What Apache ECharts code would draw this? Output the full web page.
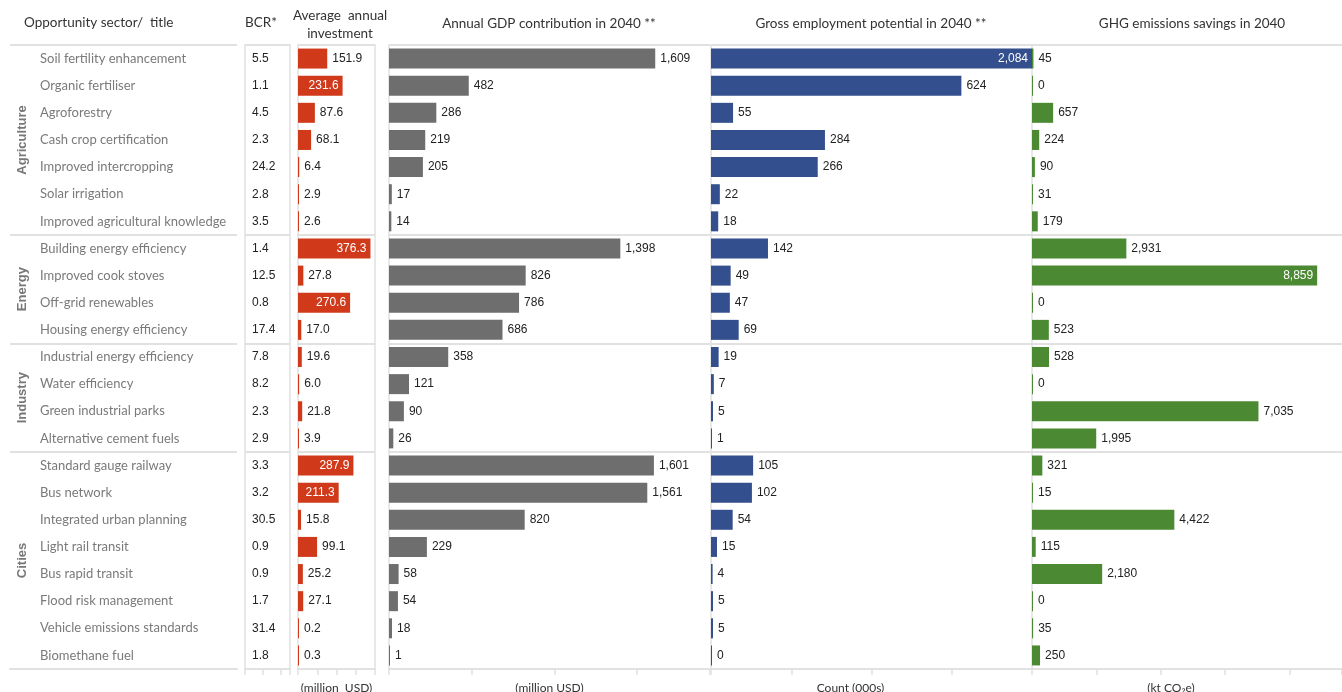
<!DOCTYPE html>
<html>
<head>
<meta charset="utf-8">
<script src="https://cdn.jsdelivr.net/npm/echarts@6/dist/echarts.min.js"></script>
<style>
html, body { margin: 0; padding: 0; background: #fff; }
#main { width: 1342px; height: 692px; }
</style>
</head>
<body>
<div id="main"></div>
<script>
// opportunities, top to bottom
var projects = [
    'Soil fertility enhancement', 'Organic fertiliser', 'Agroforestry', 'Cash crop certification',
    'Improved intercropping', 'Solar irrigation', 'Improved agricultural knowledge',
    'Building energy efficiency', 'Improved cook stoves', 'Off-grid renewables', 'Housing energy efficiency',
    'Industrial energy efficiency', 'Water efficiency', 'Green industrial parks', 'Alternative cement fuels',
    'Standard gauge railway', 'Bus network', 'Integrated urban planning', 'Light rail transit',
    'Bus rapid transit', 'Flood risk management', 'Vehicle emissions standards', 'Biomethane fuel'
];
var sectors = ['Agriculture', 'Energy', 'Industry', 'Cities'];
var sectorSizes = [7, 4, 4, 8];

var bcr = [5.5, 1.1, 4.5, 2.3, 24.2, 2.8, 3.5, 1.4, 12.5, 0.8, 17.4, 7.8, 8.2, 2.3, 2.9, 3.3, 3.2, 30.5, 0.9, 0.9, 1.7, 31.4, 1.8];
var invest = [151.9, 231.6, 87.6, 68.1, 6.4, 2.9, 2.6, 376.3, 27.8, 270.6, 17.0, 19.6, 6.0, 21.8, 3.9, 287.9, 211.3, 15.8, 99.1, 25.2, 27.1, 0.2, 0.3];
var gdp = [1609, 482, 286, 219, 205, 17, 14, 1398, 826, 786, 686, 358, 121, 90, 26, 1601, 1561, 820, 229, 58, 54, 18, 1];
var jobs = [2084, 624, 55, 284, 266, 22, 18, 142, 49, 47, 69, 19, 7, 5, 1, 105, 102, 54, 15, 4, 5, 5, 0];
var ghg = [45, 0, 657, 224, 90, 31, 179, 2931, 8859, 0, 523, 528, 0, 7035, 1995, 321, 15, 4422, 115, 2180, 0, 35, 250];

var chart = echarts.init(document.getElementById('main'));

var LINE = '#e1e1e1';
var TXT = 'Lato, "Open Sans", sans-serif';
var NUM = '"Liberation Sans", Arial, sans-serif';

// first row of each sector -> separator lines
var starts = [];
var n = 0;
sectorSizes.forEach(function (s) { starts.push(n); n += s; });

function yAx(i, extra) {
    return Object.assign({
        gridIndex: i,
        type: 'category',
        data: projects,
        inverse: true,
        axisLine: { show: false },
        axisTick: { show: false },
        axisLabel: { show: false },
        splitLine: {
            show: true,
            interval: function (idx) { return starts.indexOf(idx) >= 0; },
            lineStyle: { color: LINE, width: 2 }
        }
    }, extra || {});
}

function xAx(i, max, interval, extra) {
    return Object.assign({
        gridIndex: i,
        type: 'value',
        min: 0,
        max: max,
        interval: interval,
        axisLine: { show: true, lineStyle: { color: LINE, width: 2 } },
        axisTick: { show: true, length: 6, lineStyle: { color: LINE, width: 1.5 } },
        axisLabel: { show: false },
        splitLine: { show: false },
        nameLocation: 'middle',
        nameGap: 13,
        nameTextStyle: { color: '#333', fontSize: 12, fontFamily: TXT }
    }, extra || {});
}

function fmt(v) { return v.toLocaleString('en-US'); }

// label goes inside (white) when the bar is too long
function barData(values, limit) {
    return values.map(function (v) {
        if (v > limit) {
            return { value: v, label: { position: 'insideRight', color: '#fff', distance: 4 } };
        }
        return v;
    });
}

function barSeries(i, values, limit, color, formatter) {
    return {
        type: 'bar',
        xAxisIndex: i,
        yAxisIndex: i,
        data: barData(values, limit),
        barWidth: 20,
        barMinHeight: 1,
        itemStyle: { color: color },
        label: {
            show: true,
            position: 'right',
            distance: 5,
            color: '#222',
            fontSize: 12,
            fontFamily: NUM,
            formatter: function (p) { return formatter(p.value); }
        }
    };
}

function grid(left, width, boxed) {
    var g = { left: left, width: width, top: 45, bottom: 23, outerBoundsMode: 'none' };
    if (boxed) {
        g.show = true;
        g.borderColor = LINE;
        g.borderWidth = 1.5;
    }
    return g;
}

var sideLine = { show: true, lineStyle: { color: LINE, width: 1.5 } };

chart.setOption({
    animation: false,
    grid: [
        grid(10, 227),
        grid(245, 45, true),
        grid(298, 77, true),
        grid(389, 321),
        grid(711, 321),
        grid(1032, 310)
    ],
    xAxis: [
        xAx(0, 1, 1, { axisTick: { show: false } }),
        xAx(1, 50, 20),
        xAx(2, 400, 100, { name: '(million  USD)' }),
        xAx(3, 1940, 500, { name: '(million USD)' }),
        xAx(4, 800, 200, { name: 'Count (000s)', nameTextStyle: { color: '#333', fontSize: 12, fontFamily: TXT, padding: [0, 42, 0, 0] } }),
        xAx(5, 9630, 2000, { name: '(kt CO\u2082e)', nameTextStyle: { color: '#333', fontSize: 12, fontFamily: TXT, padding: [0, 32, 0, 0] } })
    ],
    yAxis: [
        yAx(0, { axisLabel: { show: true, inside: true, margin: 30, color: '#7a7a7a', fontSize: 13, fontFamily: TXT } }),
        // BCR column is text only
        yAx(1, { axisLabel: {
            show: true, inside: true, margin: 7, color: '#222', fontSize: 12, fontFamily: NUM,
            formatter: function (v, idx) { return bcr[idx].toFixed(1); }
        } }),
        yAx(2),
        yAx(3, { axisLine: sideLine }),
        yAx(4, { axisLine: sideLine }),
        yAx(5, { axisLine: sideLine })
    ],
    series: [
        barSeries(2, invest, 200, '#d03a1b', function (v) { return v.toFixed(1); }),
        barSeries(3, gdp, 1940, '#6e6e6e', fmt),
        barSeries(4, jobs, 800, '#334f8e', fmt),
        barSeries(5, ghg, 7500, '#4b8a33', fmt)
    ]
});

// headers and sector names
var head = { fill: '#333', fontSize: 13.5, fontFamily: TXT };
var gfx = [
    { type: 'text', x: 24, y: 23, style: Object.assign({ text: 'Opportunity sector/  title', verticalAlign: 'middle' }, head) },
    { type: 'text', x: 245, y: 23, style: Object.assign({ text: 'BCR*', verticalAlign: 'middle' }, head) },
    { type: 'text', x: 340, y: 25, style: Object.assign({ text: 'Average  annual\ninvestment', align: 'center', verticalAlign: 'middle', lineHeight: 18 }, head) },
    { type: 'text', x: 549, y: 24, style: Object.assign({ text: 'Annual GDP contribution in 2040 **', align: 'center', verticalAlign: 'middle' }, head) },
    { type: 'text', x: 871, y: 24, style: Object.assign({ text: 'Gross employment potential in 2040 **', align: 'center', verticalAlign: 'middle' }, head) },
    { type: 'text', x: 1192, y: 24, style: Object.assign({ text: 'GHG emissions savings in 2040', align: 'center', verticalAlign: 'middle' }, head) }
];
sectors.forEach(function (s, k) {
    var a = chart.convertToPixel({ yAxisIndex: 0 }, projects[starts[k]]);
    var b = chart.convertToPixel({ yAxisIndex: 0 }, projects[starts[k] + sectorSizes[k] - 1]);
    gfx.push({
        type: 'text',
        x: 22,
        y: (a + b) / 2,
        rotation: Math.PI / 2,
        style: { text: s, fill: '#777', fontSize: 13, fontWeight: 'bold', fontFamily: NUM, align: 'center', verticalAlign: 'middle' }
    });
});
chart.setOption({ graphic: gfx });
</script>
</body>
</html>
